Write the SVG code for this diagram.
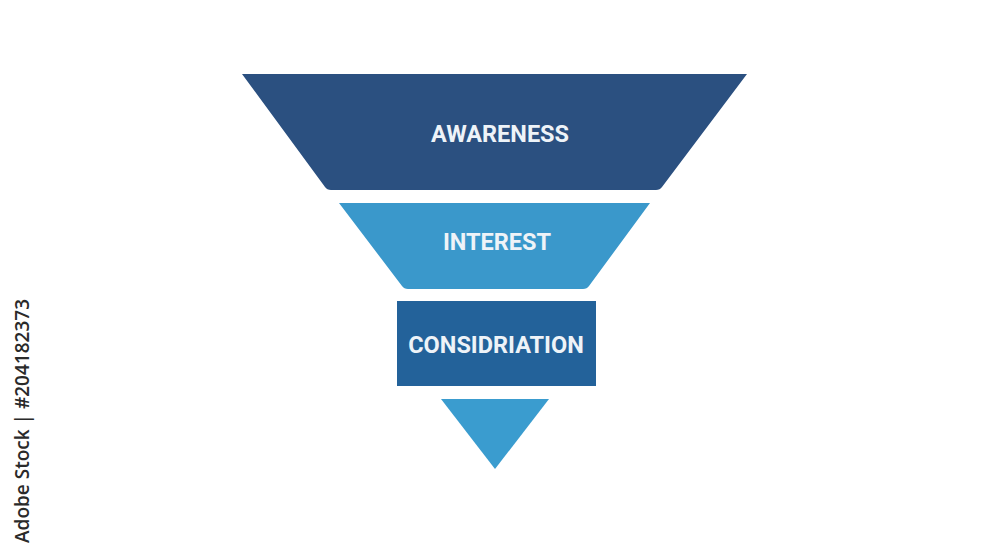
<svg xmlns="http://www.w3.org/2000/svg" width="1000" height="545" viewBox="0 0 1000 545">
<style>
.lbl{font-family:Roboto,"Liberation Sans",sans-serif;font-weight:bold;font-size:23.5px;fill:#eef3f8;text-anchor:middle;dominant-baseline:central}
.wm{font-family:"Open Sans","DejaVu Sans",sans-serif;font-size:19px;font-weight:600;fill:#2a2a2a;text-anchor:end}
</style>
<rect width="1000" height="545" fill="#ffffff"/>
<g id="awareness">
<path d="M242,74 L747,74 L662,187 Q660,190 656,190 L331,190 Q327,190 325,187 Z" fill="#2b5080"/>
<text class="lbl" x="500" y="134">AWARENESS</text>
</g>
<g id="interest">
<path d="M339,203 L650,203 L589,286 Q587,289 583,289 L408,289 Q404,289 402,286 Z" fill="#3a98cb"/>
<text class="lbl" x="497" y="242">INTEREST</text>
</g>
<g id="consideration">
<rect x="397" y="301" width="199" height="85" fill="#23629a"/>
<text class="lbl" x="496" y="345">CONSIDRIATION</text>
</g>
<g id="action">
<path d="M441,399 L549,399 L495,469 Z" fill="#3a9ccf"/>
</g>
<g id="connectors"></g>
<text class="wm" transform="translate(29,299) rotate(-90)">Adobe Stock | #204182373</text>
</svg>
